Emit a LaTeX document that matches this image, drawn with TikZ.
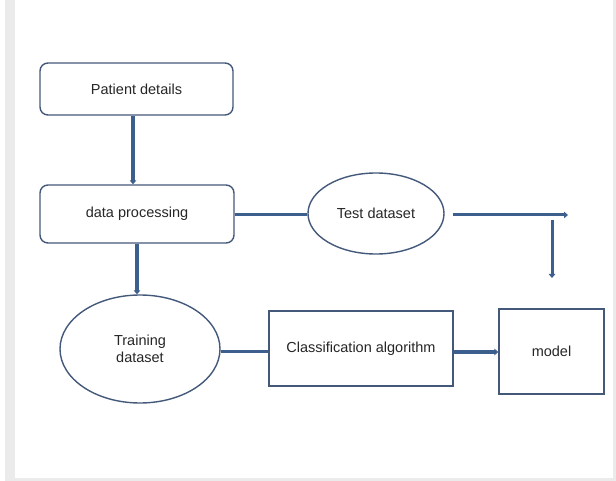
\documentclass[tikz,border=0pt]{standalone}
\usepackage{fontspec}
\setmainfont{Liberation Sans}
\usetikzlibrary{shapes.geometric,arrows.meta}
\definecolor{edge}{HTML}{44587A}
\definecolor{conn}{HTML}{3D5F8E}
\definecolor{txt}{HTML}{262626}
\definecolor{frame}{HTML}{EBEBEB}
\begin{document}
\begin{tikzpicture}[x=1pt,y=-1pt,
  every node/.style={text=txt,font=\fontsize{14.5}{17.5}\selectfont,inner sep=0pt},
  rbox/.style={draw=edge,line width=1.4pt,rounded corners=8pt,fill=white},
  sbox/.style={draw=edge,line width=1.4pt,fill=white},
  ell/.style={ellipse,draw=edge,line width=1.4pt,fill=white},
  thick link/.style={draw=conn,line width=3.6pt},
  thin link/.style={draw=conn,line width=3pt},
  tip/.style={-{Triangle[length=4pt,width=6.5pt]}}
]
\useasboundingbox (0,0) rectangle (616,481);
\fill[white] (0,0) rectangle (616,481);
\fill[frame] (5,0) rectangle (616,481);
\fill[white] (15,0) rectangle (613,478);

\node[rbox,minimum width=193pt,minimum height=52pt] (pd) at (136.5,89) {Patient details};
\node[rbox,minimum width=194pt,minimum height=58pt] (dp) at (137,214) {data processing};
\node[ell,minimum width=136pt,minimum height=81pt] (test) at (376,213.5) {Test dataset};
\node[ell,minimum width=160pt,minimum height=108pt,align=center] (train) at (140,349) {Training\\dataset};
\node[sbox,minimum width=184pt,minimum height=75pt] (cls) at (361,348.5) {Classification algorithm};
\node[sbox,minimum width=105pt,minimum height=85pt] (model) at (551.5,351.5) {model};

\coordinate (tEnd) at (568,215);
\coordinate (vStart) at (552,220);
\coordinate (vEnd) at (552,278);

\draw[thick link,tip] ([xshift=-3.5pt]pd.south) -- ([xshift=-3.5pt]pd.south |- dp.north);
\draw[thin link] (dp.east |- 0,214.5) -- (test.west |- 0,214.5);
\draw[thick link,tip] (dp.south) -- (dp.south |- train.north);
\draw[thin link,tip] ([xshift=8pt]test.east |- tEnd) -- (tEnd);
\draw[thin link,tip] (vStart) -- (vEnd);
\draw[thin link] (train.east |- 0,351) -- (cls.west |- 0,351);
\draw[thick link,tip] (cls.east |- 0,352) -- (model.west |- 0,352);
\end{tikzpicture}
\end{document}
